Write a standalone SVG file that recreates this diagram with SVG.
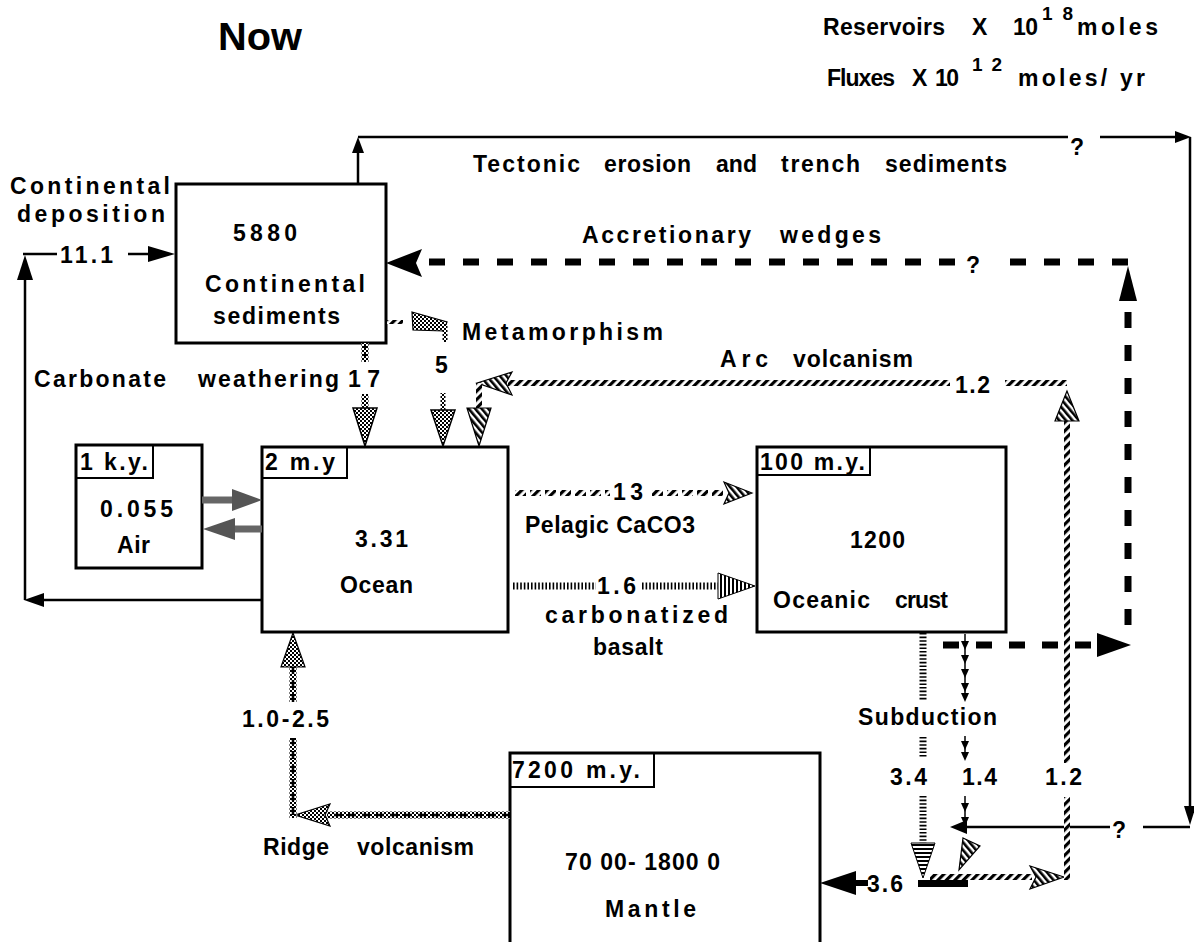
<svg xmlns="http://www.w3.org/2000/svg" width="1194" height="942" viewBox="0 0 1194 942">
<defs>
<style>
text{font-family:"Liberation Sans",Arial,sans-serif;font-weight:bold;fill:#000}
.t{font-size:23px}
.s{font-size:19px}
.box{fill:#fff;stroke:#000;stroke-width:3}
.lab{fill:none;stroke:#000;stroke-width:2}
.thin{fill:none;stroke:#000;stroke-width:2.5}
.rope{fill:none;stroke:url(#rope);stroke-width:6}
.chk{fill:none;stroke:url(#checker);stroke-width:7}
.tick{fill:none;stroke:#000;stroke-width:7;stroke-dasharray:1.6 2}
.bdash{fill:none;stroke:#000;stroke-width:7;stroke-dasharray:16 17}
.blk{fill:#000}
.arr14{fill:none;stroke:#000;stroke-width:1.5;marker-mid:url(#mini);marker-end:url(#mini)}
</style>
<pattern id="rope" width="6" height="6" patternUnits="userSpaceOnUse" patternTransform="rotate(45)"><rect width="6" height="6" fill="#fff"/><rect width="3.2" height="6" fill="#000"/></pattern>
<pattern id="hatch" width="5" height="5" patternUnits="userSpaceOnUse" patternTransform="rotate(-40)"><rect width="5" height="5" fill="#fff"/><rect width="2.6" height="5" fill="#000"/></pattern>
<pattern id="checker" width="4" height="4" patternUnits="userSpaceOnUse"><rect width="4" height="4" fill="#fff"/><rect width="2" height="2" fill="#000"/><rect x="2" y="2" width="2" height="2" fill="#000"/></pattern>
<pattern id="vstripe" width="4" height="4" patternUnits="userSpaceOnUse"><rect width="4" height="4" fill="#fff"/><rect width="2" height="4" fill="#000"/></pattern>
<pattern id="hstripe" width="4" height="4" patternUnits="userSpaceOnUse"><rect width="4" height="4" fill="#fff"/><rect width="4" height="2" fill="#000"/></pattern>
<marker id="mini" markerUnits="userSpaceOnUse" markerWidth="10" markerHeight="10" refX="5" refY="5" orient="auto" viewBox="0 0 10 10"><polygon points="0,1 9,5 0,9" fill="#000"/></marker>
</defs>
<rect width="1194" height="942" fill="#fff"/>

<g id="title">
<text x="218" y="50" font-size="38" textLength="84" lengthAdjust="spacingAndGlyphs">Now</text>
<text class="t" x="823" y="35" textLength="122">Reservoirs</text>
<text class="t" x="972" y="35">X</text>
<text class="t" x="1013" y="35" textLength="25">10</text>
<text class="s" x="1042" y="20" textLength="31">18</text>
<text class="t" x="1077" y="35" textLength="81">moles</text>
<text class="t" x="827" y="86" textLength="68">Fluxes</text>
<text class="t" x="912" y="86">X</text>
<text class="t" x="935" y="86" textLength="24">10</text>
<text class="s" x="972" y="71" textLength="30">12</text>
<text class="t" x="1018" y="86" textLength="127">moles/ yr</text>
</g>

<g id="node-continental-sediments">
<rect class="box" x="176" y="184" width="210" height="159"/>
<text class="t" x="233" y="241" textLength="64">5880</text>
<text class="t" x="205" y="292" textLength="160">Continental</text>
<text class="t" x="213" y="324" textLength="127">sediments</text>
</g>

<g id="node-air">
<rect class="box" x="76" y="445" width="126" height="123"/>
<rect class="lab" x="76" y="445" width="77" height="33"/>
<text class="t" x="80" y="470" textLength="68">1 k.y.</text>
<text class="t" x="100" y="517" textLength="73">0.055</text>
<text class="t" x="117" y="553" textLength="33">Air</text>
</g>

<g id="node-ocean">
<rect class="box" x="262" y="447" width="246" height="185"/>
<rect class="lab" x="262" y="447" width="85" height="31"/>
<text class="t" x="265" y="470" textLength="70">2 m.y</text>
<text class="t" x="355" y="547" textLength="53">3.31</text>
<text class="t" x="340" y="593" textLength="73">Ocean</text>
</g>

<g id="node-oceanic-crust">
<rect class="box" x="757" y="447" width="249" height="185"/>
<rect class="lab" x="757" y="447" width="113" height="28"/>
<text class="t" x="760" y="470" textLength="105">100 m.y.</text>
<text class="t" x="850" y="548" textLength="55">1200</text>
<text class="t" x="773" y="608" textLength="97">Oceanic</text>
<text class="t" x="895" y="608" textLength="53">crust</text>
</g>

<g id="node-mantle">
<rect class="box" x="510" y="753" width="310" height="200"/>
<rect class="lab" x="510" y="753" width="144" height="34"/>
<text class="t" x="512" y="778" textLength="128">7200 m.y.</text>
<text class="t" x="565" y="870" textLength="155">70 00- 1800 0</text>
<text class="t" x="605" y="917" textLength="91">Mantle</text>
</g>

<g id="connectors">
<g id="tectonic-erosion">
<line class="thin" x1="358" y1="184" x2="358" y2="150"/>
<polygon class="blk" points="358,137 352,153 364,153"/>
<line class="thin" x1="358" y1="137" x2="1068" y2="137"/>
<line class="thin" x1="1100" y1="137" x2="1176" y2="137"/>
<polygon class="blk" points="1191,137 1175,131 1175,143"/>
<line class="thin" x1="1190" y1="137" x2="1190" y2="808"/>
<polygon class="blk" points="1190,825 1184,806 1196,806"/>
<line class="thin" x1="1190" y1="827" x2="1143" y2="827"/>
<line class="thin" x1="1110" y1="827" x2="964" y2="827"/>
<polygon class="blk" points="950,827 967,820 967,834"/>
<text class="t" x="1070" y="155">?</text>
<text class="t" x="1112" y="838">?</text>
<text class="t" x="473" y="172" textLength="107">Tectonic</text>
<text class="t" x="604" y="172" textLength="87">erosion</text>
<text class="t" x="716" y="172" textLength="41">and</text>
<text class="t" x="781" y="172" textLength="79">trench</text>
<text class="t" x="885" y="172" textLength="122">sediments</text>
</g>

<g id="accretionary-wedges">
<line class="bdash" x1="943" y1="645" x2="1097" y2="645"/>
<polygon class="blk" points="1131,645 1097,633 1097,657"/>
<line class="bdash" x1="1128" y1="625" x2="1128" y2="303"/>
<polygon class="blk" points="1128,266 1119,301 1137,301"/>
<line class="bdash" x1="1128" y1="262" x2="995" y2="262" style="stroke-dasharray:16 18"/>
<line class="bdash" x1="955" y1="262" x2="422" y2="262" style="stroke-dasharray:16 18"/>
<polygon class="blk" points="386,263 422,249 416,263 422,277"/>
<text class="t" x="966" y="273">?</text>
<text class="t" x="582" y="243" textLength="169">Accretionary</text>
<text class="t" x="780" y="243" textLength="101">wedges</text>
</g>

<g id="continental-deposition">
<line class="thin" x1="262" y1="600" x2="42" y2="600"/>
<polygon class="blk" points="24,600 44,593 44,607"/>
<line class="thin" x1="25" y1="600" x2="25" y2="272"/>
<polygon class="blk" points="25,255 17,280 33,280"/>
<line class="thin" x1="23" y1="254" x2="57" y2="254"/>
<line class="thin" x1="128" y1="254" x2="150" y2="254"/>
<polygon class="blk" points="175,254 148,246 148,262"/>
<text class="t" x="10" y="194" textLength="160">Continental</text>
<text class="t" x="17" y="222" textLength="148">deposition</text>
<text class="t" x="60" y="263" textLength="53">11.1</text>
</g>

<g id="carbonate-weathering">
<line class="chk" x1="365" y1="343" x2="365" y2="362"/>
<line x1="365" y1="345" x2="365" y2="362" stroke="#000" stroke-width="2" stroke-dasharray="4 4"/>
<line class="chk" x1="365" y1="394" x2="365" y2="412"/>
<polygon points="353,408 377,408 365,446" fill="url(#checker)" stroke="#000" stroke-width="1.5"/>
<text class="t" x="34" y="387" textLength="132">Carbonate</text>
<text class="t" x="198" y="387" textLength="141">weathering</text>
<text class="t" x="348" y="387" textLength="32">17</text>
</g>

<g id="metamorphism">
<line class="rope" x1="387" y1="322" x2="403" y2="322" style="stroke-width:4"/>
<polygon points="412,312 447,322 444,331 413,330" fill="url(#checker)" stroke="#000" stroke-width="1.2"/>
<line class="chk" x1="445" y1="325" x2="445" y2="342" style="stroke-width:5"/>
<line class="chk" x1="443" y1="393" x2="443" y2="412" style="stroke-width:5"/>
<polygon points="431,410 455,410 443,446" fill="url(#checker)" stroke="#000" stroke-width="1.5"/>
<text class="t" x="462" y="340" textLength="201">Metamorphism</text>
<text class="t" x="435" y="373">5</text>
</g>

<g id="arc-volcanism">
<line class="rope" x1="1067" y1="880" x2="1067" y2="797"/>
<line class="rope" x1="1067" y1="763" x2="1067" y2="418"/>
<polygon points="1067,391 1055,421 1079,421" fill="url(#hatch)" stroke="#000" stroke-width="1.2"/>
<line class="rope" x1="1067" y1="383" x2="1005" y2="383"/>
<line class="rope" x1="950" y1="383" x2="508" y2="383"/>
<polygon points="477,383 512,372 506,383 512,395" fill="url(#hatch)" stroke="#000" stroke-width="1.2"/>
<line class="rope" x1="479" y1="383" x2="479" y2="410"/>
<polygon points="467,408 491,408 479,446" fill="url(#hatch)" stroke="#000" stroke-width="1.2"/>
<text class="t" x="720" y="367" textLength="48">Arc</text>
<text class="t" x="793" y="367" textLength="120">volcanism</text>
<text class="t" x="955" y="393" textLength="35">1.2</text>
<text class="t" x="1045" y="785" textLength="37">1.2</text>
</g>

<g id="pelagic-caco3">
<line class="rope" x1="515" y1="493" x2="610" y2="493" style="stroke-dasharray:11 4"/>
<line class="rope" x1="652" y1="493" x2="724" y2="493" style="stroke-dasharray:11 4"/>
<polygon points="752,493 724,482 729,493 724,504" fill="url(#hatch)" stroke="#000" stroke-width="1.2"/>
<text class="t" x="613" y="500" textLength="30">13</text>
<text class="t" x="525" y="533" textLength="170">Pelagic CaCO3</text>
</g>

<g id="carbonatized-basalt">
<line class="tick" x1="513" y1="586" x2="596" y2="586"/>
<line class="tick" x1="642" y1="586" x2="718" y2="586"/>
<polygon points="755,586 718,573 718,599" fill="url(#vstripe)" stroke="#000" stroke-width="1"/>
<text class="t" x="597" y="594" textLength="39">1.6</text>
<text class="t" x="545" y="623" textLength="183">carbonatized</text>
<text class="t" x="593" y="655" textLength="70">basalt</text>
</g>

<g id="subduction">
<line class="tick" x1="923" y1="633" x2="923" y2="700"/>
<line class="tick" x1="923" y1="737" x2="923" y2="757"/>
<line class="tick" x1="923" y1="796" x2="923" y2="843"/>
<polygon points="911,843 935,843 923,878" fill="url(#hstripe)" stroke="#000" stroke-width="1"/>
<path class="arr14" d="M965,634 L965,646 L965,660 L965,674 L965,688 L965,698"/>
<path class="arr14" d="M965,736 L965,746 L965,757"/>
<path class="arr14" d="M965,796 L965,808 L965,822"/>
<polygon points="963,838 980,846 959,870" fill="url(#hatch)" stroke="#000" stroke-width="1.2"/>
<line class="rope" x1="930" y1="877" x2="1032" y2="877"/>
<polygon points="1064,877 1030,866 1036,877 1030,889" fill="url(#hatch)" stroke="#000" stroke-width="1.2"/>
<line x1="1064" y1="877" x2="1070" y2="877" class="rope"/>
<text class="t" x="858" y="725" textLength="139">Subduction</text>
<text class="t" x="890" y="785" textLength="37">3.4</text>
<text class="t" x="962" y="785" textLength="35">1.4</text>
</g>

<g id="mantle-return">
<rect class="blk" x="918" y="880" width="50" height="7"/>
<line x1="852" y1="883" x2="868" y2="883" stroke="#000" stroke-width="6"/>
<polygon class="blk" points="820,883 856,871 856,895"/>
<text class="t" x="867" y="892" textLength="36">3.6</text>
</g>

<g id="ridge-volcanism">
<line class="chk" x1="510" y1="815" x2="327" y2="815"/>
<line x1="510" y1="815" x2="327" y2="815" stroke="#000" stroke-width="2.5" stroke-dasharray="8 6"/>
<polygon points="295,815 330,804 325,815 330,826" fill="url(#checker)" stroke="#000" stroke-width="1.2"/>
<line class="chk" x1="293" y1="818" x2="293" y2="738"/>
<line x1="293" y1="815" x2="293" y2="738" stroke="#000" stroke-width="2.5" stroke-dasharray="8 6"/>
<line class="chk" x1="293" y1="702" x2="293" y2="665"/>
<line x1="293" y1="702" x2="293" y2="665" stroke="#000" stroke-width="2.5" stroke-dasharray="8 6"/>
<polygon points="293,633 281,667 305,667" fill="url(#checker)" stroke="#000" stroke-width="1.2"/>
<text class="t" x="242" y="727" textLength="87">1.0-2.5</text>
<text class="t" x="263" y="855" textLength="66">Ridge</text>
<text class="t" x="357" y="855" textLength="117">volcanism</text>
</g>

<g id="air-sea">
<line x1="202" y1="500" x2="234" y2="500" stroke="#666" stroke-width="7"/>
<polygon points="262,500 232,489 232,511" fill="#555"/>
<line x1="262" y1="529" x2="233" y2="529" stroke="#666" stroke-width="7"/>
<polygon points="203,529 235,518 235,540" fill="#555"/>
</g>
</g>
</svg>
